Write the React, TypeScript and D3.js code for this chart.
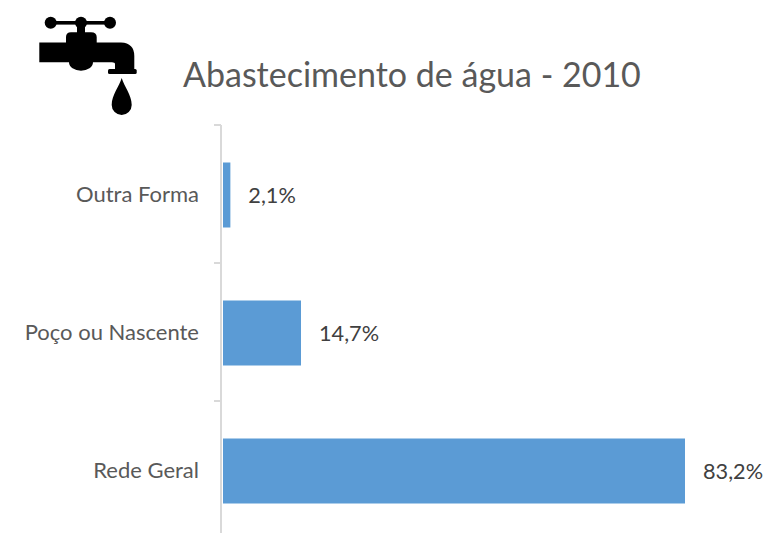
import React from "react";
import * as d3 from "d3";

const categories = ["Outra Forma", "Poço ou Nascente", "Rede Geral"];
const values = [2.1, 14.7, 83.2];
const valueLabels = ["2,1%", "14,7%", "83,2%"];
const title = "Abastecimento de água - 2010";

const W = 763;
const H = 533;
const font = "Lato, 'Open Sans', sans-serif";
const textColor = "#595959";

export default function App() {
  const x = d3.scaleLinear().domain([0.785, 83.2]).range([223, 685]);
  const y = d3.scaleBand<string>().domain(categories).range([126, 540]).paddingInner(0.529).paddingOuter(0.2645);
  const ticks = [125, 125 + y.step(), 125 + 2 * y.step()];
  return (
    <svg width={W} height={H} viewBox={`0 0 ${W} ${H}`} style={{ position: "fixed", left: 0, top: 0, background: "#fff" }}>
      <g fill="#000">
        <circle cx={50.7} cy={22.7} r={6} />
        <circle cx={81} cy={22.7} r={6} />
        <circle cx={110} cy={22.7} r={6} />
        <rect x={50} y={21} width={60} height={3.6} />
        <rect x={77} y={22} width={8} height={12} />
        <path d="M66,42.5 V37 Q66,32.3 71,32.3 H91 Q96.7,32.3 96.7,37 V42.5 H121 Q134.3,43 134.3,56 V69 H115 V64 Q115,62.3 112,62.3 H93 A12,8.5 0 0 1 69,62.3 H39.3 V42.5 Z" />
        <rect x={108} y={69} width={28.7} height={5} rx={1.5} />
        <path d="M121.7,78 C124,86 131.7,95 131.7,105 A10,10 0 0 1 111.7,105 C111.7,95 119.4,86 121.7,78 Z" />
      </g>
      <text x={183} y={87} fontFamily={font} fontSize={34} fill={textColor}>{title}</text>
      <g stroke="#d9d9d9" strokeWidth={2} fill="none">
        <line x1={221} x2={221} y1={125} y2={533} />
        {ticks.map((t) => (
          <line key={t} x1={214} x2={221} y1={t} y2={t} />
        ))}
      </g>
      {categories.map((c, i) => {
        const by = y(c)!;
        const cy = by + y.bandwidth() / 2;
        return (
          <g key={c}>
            <rect x={x.range()[0]} y={by} width={x(values[i]) - x.range()[0]} height={y.bandwidth()} fill="#5b9bd5" />
            <text x={199} y={cy + 7} textAnchor="end" fontFamily={font} fontSize={22} fill={textColor}>{c}</text>
            <text x={x(values[i]) + 18} y={cy + 7.5} fontFamily={font} fontSize={21.7} fill="#404040">{valueLabels[i]}</text>
          </g>
        );
      })}
    </svg>
  );
}
